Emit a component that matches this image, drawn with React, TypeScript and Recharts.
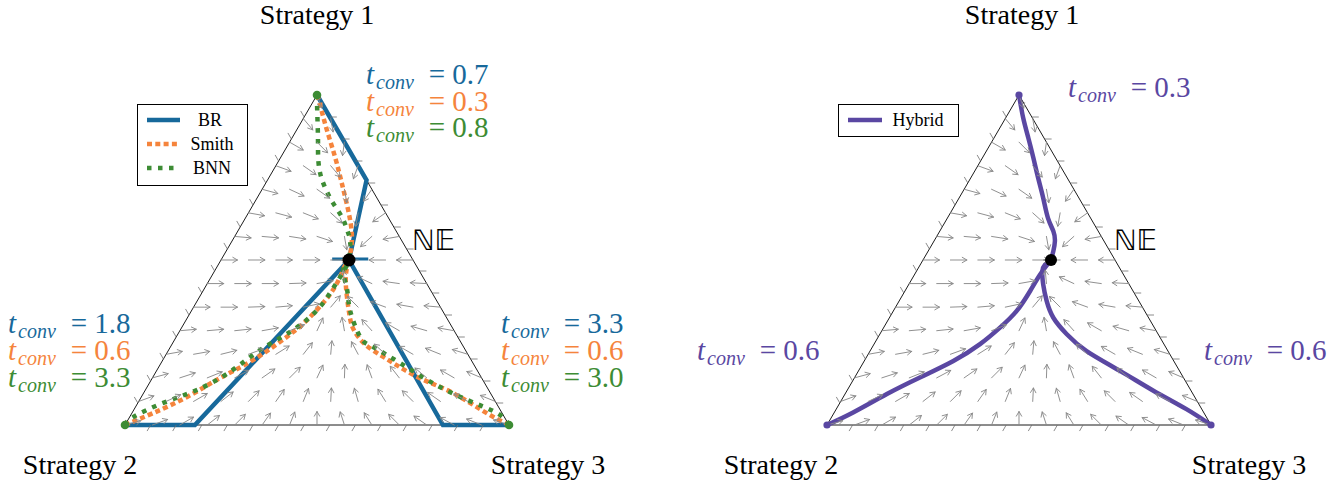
import React from "react";
import { ComposedChart, XAxis, YAxis, Line, Scatter } from "recharts";

// ---------- data (ternary shares: [x1 = Strategy 1, x3 = Strategy 3]) ----------
const BR_TOP = [[1, 0], [0.742, 0.258], [0.5, 0.3333]];
const BR_LEFT = [[0, 0], [0, 0.182], [0.5, 0.3333]];
const BR_RIGHT = [[0, 1], [0, 0.828], [0.5, 0.3333]];
const BR_NE_CHATTER = [[0.503, 0.288], [0.503, 0.382]];

const SMITH_TOP = [[1, 0], [0.97, 0.023], [0.903, 0.072], [0.812, 0.141], [0.733, 0.198], [0.652, 0.255], [0.57, 0.306], [0.5, 0.3333]];
const SMITH_LEFT = [[0, 0], [0.036, 0.055], [0.085, 0.119], [0.142, 0.176], [0.197, 0.235], [0.267, 0.288], [0.318, 0.315], [0.37, 0.331], [0.409, 0.337], [0.448, 0.336], [0.485, 0.331], [0.5, 0.3333]];
const SMITH_RIGHT = [[0, 1], [0.039, 0.918], [0.1, 0.799], [0.145, 0.69], [0.203, 0.576], [0.245, 0.502], [0.288, 0.452], [0.327, 0.422], [0.388, 0.384], [0.448, 0.351], [0.491, 0.335], [0.5, 0.3333]];

const BNN_TOP = [[1, 0], [0.955, 0.023], [0.873, 0.066], [0.812, 0.097], [0.764, 0.126], [0.721, 0.16], [0.673, 0.205], [0.63, 0.25], [0.591, 0.283], [0.555, 0.309], [0.5, 0.3333]];
const BNN_LEFT = [[0, 0], [0.024, 0.009], [0.067, 0.066], [0.106, 0.134], [0.161, 0.193], [0.227, 0.238], [0.288, 0.294], [0.348, 0.326], [0.4, 0.334], [0.448, 0.336], [0.485, 0.336], [0.5, 0.3333]];
const BNN_RIGHT = [[0, 1], [0.036, 0.951], [0.076, 0.853], [0.127, 0.738], [0.188, 0.622], [0.236, 0.528], [0.267, 0.479], [0.348, 0.412], [0.409, 0.374], [0.47, 0.333], [0.5, 0.3333]];

const HYBRID_TOP = [[1, 0], [0.93, 0.046], [0.869, 0.09], [0.809, 0.133], [0.748, 0.176], [0.688, 0.219], [0.627, 0.262], [0.587, 0.296], [0.557, 0.315], [0.527, 0.326], [0.5, 0.3333]];
const HYBRID_LEFT = [[0, 0], [0.038, 0.049], [0.094, 0.109], [0.144, 0.17], [0.194, 0.232], [0.245, 0.276], [0.295, 0.303], [0.345, 0.321], [0.406, 0.326], [0.456, 0.327], [0.496, 0.332], [0.5, 0.3333]];
const HYBRID_RIGHT = [[0, 1], [0.048, 0.912], [0.104, 0.798], [0.164, 0.681], [0.224, 0.564], [0.275, 0.487], [0.325, 0.427], [0.376, 0.384], [0.426, 0.35], [0.466, 0.328], [0.486, 0.325], [0.5, 0.3333]];

const NE_POINT = [[0.5, 1 / 3]];
const VERTICES = [[1, 0], [0, 0], [0, 1]];

// vector field: arrow angle (deg) at lattice point x1 = row/14, x3 = k/14
const FIELD_ROW_0 = [15, 20, 30, 38, 45, 55, 68, 90, 108, 122, 135, 145, 152, 158, 162];
const FIELD_ROW_1 = [20, 25, 30, 38, 45, 55, 68, 87, 106, 122, 135, 145, 152, 158];
const FIELD_ROW_2 = [15, 18, 22, 28, 35, 45, 65, 88, 110, 128, 140, 150, 157];
const FIELD_ROW_3 = [10, 10, 14, 20, 32, 52, 85, 118, 138, 150, 158, 163];
const FIELD_ROW_4 = [5, 5, 6, 10, 22, 65, 100, 132, 150, 164, 170];
const FIELD_ROW_5 = [0, 0, 2, 5, 12, 50, 135, 160, 170, 175];
const FIELD_ROW_6 = [0, 0, 0, 2, 10, 95, 155, 172, 177];
const FIELD_ROW_7 = [0, 0, 0, 0, 0, 180, 180, 180];
const FIELD_ROW_8 = [-5, -5, -9, -18, -80, 222, 190];
const FIELD_ROW_9 = [-10, -15, -22, -42, 260, 215];
const FIELD_ROW_10 = [-15, -25, -35, -80, 235];
const FIELD_ROW_11 = [-20, -35, -50, 250];
const FIELD_ROW_12 = [-30, -45, 262];
const FIELD_ROW_13 = [-50, -80];
const FIELD_ROW_14 = [-70];
const FIELD_ROWS = [FIELD_ROW_0, FIELD_ROW_1, FIELD_ROW_2, FIELD_ROW_3, FIELD_ROW_4, FIELD_ROW_5, FIELD_ROW_6, FIELD_ROW_7, FIELD_ROW_8, FIELD_ROW_9, FIELD_ROW_10, FIELD_ROW_11, FIELD_ROW_12, FIELD_ROW_13, FIELD_ROW_14];
const LATTICE_N = 14;

const TICK_VALUES = [1, 2, 3, 4, 5, 6, 7, 8, 9, 10, 11, 12, 13, 14].map((i) => i / 15);

const LEGEND_LEFT = ["BR", "Smith", "BNN"];
const LEGEND_RIGHT = ["Hybrid"];
const LABELS_LEFT = { top: ["0.7", "0.3", "0.8"], left: ["1.8", "0.6", "3.3"], right: ["3.3", "0.6", "3.0"] };
const LABELS_RIGHT = { top: "0.3", left: "0.6", right: "0.6" };

// ---------- layout / style ----------
const W = 1341;
const H = 484;
const SQ = Math.sqrt(3) / 2;
const PX_X = 384;
const PX_Y = 330 / SQ;
const ORIGIN_X = 125;
const ORIGIN_Y = 425;
const RIGHT_OX = 702 / PX_X;
const X_DOMAIN = [-ORIGIN_X / PX_X, (W - ORIGIN_X) / PX_X];
const Y_DOMAIN = [-(H - ORIGIN_Y) / PX_Y, ORIGIN_Y / PX_Y];

const BLUE = "#17699b";
const ORANGE = "#f5843c";
const GREEN = "#3d8c34";
const PURPLE = "#5a47a2";
const GRAY = "#8a8a8a";
const SERIF = "'Liberation Serif', 'Times New Roman', serif";

const tern = (x1: number, x3: number, ox: number) => ({ x: ox + x3 + x1 / 2, y: x1 * SQ });
const path = (pts: number[][], ox: number) => pts.map(([a, b]) => tern(a, b, ox));

const fieldData = (ox: number) => {
  const out: any[] = [];
  FIELD_ROWS.forEach((row, j) => {
    row.forEach((ang, k) => {
      out.push({ ...tern(j / LATTICE_N, k / LATTICE_N, ox), a: ang });
    });
  });
  return out;
};

const tickData = (ox: number) => {
  const out: any[] = [];
  TICK_VALUES.forEach((t) => {
    out.push({ ...tern(0, t, ox), side: "b" });
    out.push({ ...tern(t, 1 - t, ox), side: "r" });
    out.push({ ...tern(t, 0, ox), side: "l" });
  });
  return out;
};

const ArrowShape = (props: any) => {
  const { cx, cy, payload } = props;
  if (cx == null || cy == null) return <g />;
  const a = (payload.a * Math.PI) / 180;
  const L = Math.hypot(16.5 * Math.cos(a), 13.5 * Math.sin(a));
  const tx = cx + L * Math.cos(a);
  const ty = cy - L * Math.sin(a);
  const h = 5.4;
  const b1 = a + Math.PI - 0.52;
  const b2 = a + Math.PI + 0.52;
  return (
    <g stroke={GRAY} strokeWidth={0.95} fill="none" strokeLinecap="round">
      <line x1={cx} y1={cy} x2={tx} y2={ty} />
      <path d={`M${tx + h * Math.cos(b1)} ${ty - h * Math.sin(b1)} L${tx} ${ty} L${tx + h * Math.cos(b2)} ${ty - h * Math.sin(b2)}`} />
    </g>
  );
};

const TickShape = (props: any) => {
  const { cx, cy, payload } = props;
  if (cx == null || cy == null) return <g />;
  const len = 7;
  let dx = 0;
  let dy = 0;
  if (payload.side === "b") { dx = -0.5 * len; dy = SQ * len; }
  else if (payload.side === "r") { dx = len; dy = 0; }
  else { dx = -0.5 * len; dy = -SQ * len; }
  return <line x1={cx} y1={cy} x2={cx + dx} y2={cy + dy} stroke="#6f6f6f" strokeWidth={0.8} />;
};

const dotShape = (r: number, fill: string) => (props: any) => {
  const { cx, cy } = props;
  if (cx == null || cy == null) return <g />;
  return <circle cx={cx} cy={cy} r={r} fill={fill} />;
};

const TConv = ({ x, y, color, v }: { x: number; y: number; color: string; v: string }) => (
  <text x={x} y={y} fill={color} fontFamily={SERIF} fontSize={29}>
    <tspan fontStyle="italic">t</tspan>
    <tspan fontStyle="italic" fontSize={20} dx={2} dy={5}>conv</tspan>
    <tspan dx={15} dy={-5}>=</tspan>
    <tspan dx={7}>{v}</tspan>
  </text>
);

const Triangle = (ox: number) => path([[1, 0], [0, 0], [0, 1], [1, 0]], ox);

export default function App() {
  const lineCommon = { dataKey: "y", dot: false, isAnimationActive: false, activeDot: false, legendType: "none" as const };
  return (
    <div style={{ position: "absolute", left: 0, top: 0, width: W, height: H, background: "#fff" }}>
      <ComposedChart width={W} height={H} margin={{ top: 0, right: 0, bottom: 0, left: 0 }}>
        <XAxis type="number" dataKey="x" domain={X_DOMAIN} hide allowDataOverflow height={0} />
        <YAxis type="number" dataKey="y" domain={Y_DOMAIN} hide allowDataOverflow width={0} />

        <Scatter data={fieldData(0)} shape={ArrowShape} isAnimationActive={false} />
        <Scatter data={fieldData(RIGHT_OX)} shape={ArrowShape} isAnimationActive={false} />
        <Scatter data={tickData(0)} shape={TickShape} isAnimationActive={false} />
        <Scatter data={tickData(RIGHT_OX)} shape={TickShape} isAnimationActive={false} />

        <Line {...lineCommon} data={Triangle(0)} stroke="#000" strokeWidth={0.9} type="linear" />
        <Line {...lineCommon} data={Triangle(RIGHT_OX)} stroke="#000" strokeWidth={0.9} type="linear" />

        <Line {...lineCommon} data={path(BR_TOP, 0)} stroke={BLUE} strokeWidth={4.5} type="linear" />
        <Line {...lineCommon} data={path(BR_LEFT, 0)} stroke={BLUE} strokeWidth={4.5} type="linear" />
        <Line {...lineCommon} data={path(BR_RIGHT, 0)} stroke={BLUE} strokeWidth={4.5} type="linear" />
        <Line {...lineCommon} data={path(BR_NE_CHATTER, 0)} stroke={BLUE} strokeWidth={3} type="linear" />

        <Line {...lineCommon} data={path(SMITH_TOP, 0)} stroke={ORANGE} strokeWidth={4.5} strokeDasharray="5 3.3" type="natural" />
        <Line {...lineCommon} data={path(SMITH_LEFT, 0)} stroke={ORANGE} strokeWidth={4.5} strokeDasharray="5 3.3" type="natural" />
        <Line {...lineCommon} data={path(SMITH_RIGHT, 0)} stroke={ORANGE} strokeWidth={4.5} strokeDasharray="5 3.3" type="natural" />

        <Line {...lineCommon} data={path(BNN_TOP, 0)} stroke={GREEN} strokeWidth={4.5} strokeDasharray="4.5 6.5" type="natural" />
        <Line {...lineCommon} data={path(BNN_LEFT, 0)} stroke={GREEN} strokeWidth={4.5} strokeDasharray="4.5 6.5" type="natural" />
        <Line {...lineCommon} data={path(BNN_RIGHT, 0)} stroke={GREEN} strokeWidth={4.5} strokeDasharray="4.5 6.5" type="natural" />

        <Line {...lineCommon} data={path(HYBRID_TOP, RIGHT_OX)} stroke={PURPLE} strokeWidth={4.5} type="natural" />
        <Line {...lineCommon} data={path(HYBRID_LEFT, RIGHT_OX)} stroke={PURPLE} strokeWidth={4.5} type="natural" />
        <Line {...lineCommon} data={path(HYBRID_RIGHT, RIGHT_OX)} stroke={PURPLE} strokeWidth={4.5} type="natural" />

        <Scatter data={path(VERTICES, 0)} shape={dotShape(4.3, GREEN)} isAnimationActive={false} />
        <Scatter data={path(VERTICES, RIGHT_OX)} shape={dotShape(3.6, PURPLE)} isAnimationActive={false} />
        <Scatter data={path(NE_POINT, 0)} shape={dotShape(6.5, "#000")} isAnimationActive={false} />
        <Scatter data={path(NE_POINT, RIGHT_OX)} shape={dotShape(6, "#000")} isAnimationActive={false} />
      </ComposedChart>

      <svg width={W} height={H} style={{ position: "absolute", left: 0, top: 0, pointerEvents: "none" }}>
        <g fontFamily={SERIF} fontSize={28} fill="#000" textAnchor="middle">
          <text x={317} y={24}>Strategy 1</text>
          <text x={80} y={474}>Strategy 2</text>
          <text x={548} y={474}>Strategy 3</text>
          <text x={1022} y={24}>Strategy 1</text>
          <text x={781} y={474}>Strategy 2</text>
          <text x={1249} y={474}>Strategy 3</text>
        </g>
        <g fontFamily="'DejaVu Sans', sans-serif" fontSize={28} fill="#000">
          <text x={412} y={250}>ℕ𝔼</text>
          <text x={1114} y={250}>ℕ𝔼</text>
        </g>

        <rect x={137.5} y={104.5} width={110} height={81} fill="#fff" stroke="#000" strokeWidth={1} />
        <line x1={147} y1={120} x2={180} y2={120} stroke={BLUE} strokeWidth={4.5} />
        <line x1={147} y1={144} x2={180} y2={144} stroke={ORANGE} strokeWidth={4.5} strokeDasharray="5 3.3" />
        <line x1={147} y1={168} x2={180} y2={168} stroke={GREEN} strokeWidth={4.5} strokeDasharray="4.5 6.5" />
        <rect x={838.5} y={104.5} width={120} height={32} fill="#fff" stroke="#000" strokeWidth={1} />
        <line x1={848} y1={120} x2={882} y2={120} stroke={PURPLE} strokeWidth={4.5} />
        <g fontFamily={SERIF} fontSize={18} fill="#000" textAnchor="middle">
          <text x={210} y={126}>{LEGEND_LEFT[0]}</text>
          <text x={212} y={150}>{LEGEND_LEFT[1]}</text>
          <text x={212} y={174}>{LEGEND_LEFT[2]}</text>
          <text x={918} y={126}>{LEGEND_RIGHT[0]}</text>
        </g>

        <TConv x={366} y={84} color={BLUE} v={LABELS_LEFT.top[0]} />
        <TConv x={366} y={110.5} color={ORANGE} v={LABELS_LEFT.top[1]} />
        <TConv x={366} y={137} color={GREEN} v={LABELS_LEFT.top[2]} />
        <TConv x={8} y={333} color={BLUE} v={LABELS_LEFT.left[0]} />
        <TConv x={8} y={360} color={ORANGE} v={LABELS_LEFT.left[1]} />
        <TConv x={8} y={386.5} color={GREEN} v={LABELS_LEFT.left[2]} />
        <TConv x={501} y={333} color={BLUE} v={LABELS_LEFT.right[0]} />
        <TConv x={501} y={360} color={ORANGE} v={LABELS_LEFT.right[1]} />
        <TConv x={501} y={386.5} color={GREEN} v={LABELS_LEFT.right[2]} />

        <TConv x={1068} y={97} color={PURPLE} v={LABELS_RIGHT.top} />
        <TConv x={697} y={360} color={PURPLE} v={LABELS_RIGHT.left} />
        <TConv x={1204} y={360} color={PURPLE} v={LABELS_RIGHT.right} />
      </svg>
    </div>
  );
}
